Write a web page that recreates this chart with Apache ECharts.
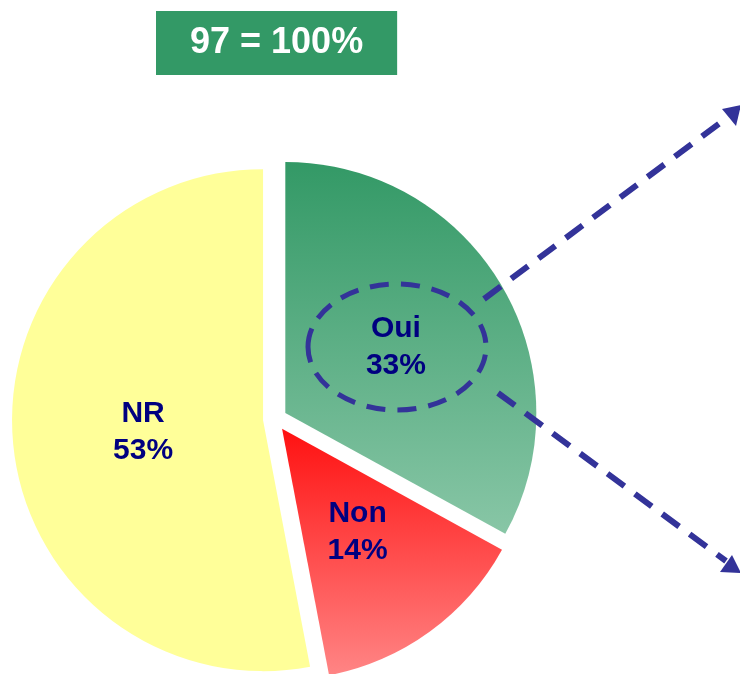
<!DOCTYPE html>
<html>
<head>
<meta charset="utf-8">
<script src="https://cdn.jsdelivr.net/npm/echarts@6/dist/echarts.min.js"></script>
<style>
  html, body { margin: 0; padding: 0; background: #fff; }
  #chart { width: 740px; height: 674px; }
</style>
</head>
<body>
<div id="chart"></div>
<script type="text/javascript">
	// réponses (en %)
	var categories = ['Oui', 'Non', 'NR'];
	var values = [33, 14, 53];
	var total = 97;

	var fills = [
		new echarts.graphic.LinearGradient(0, 0, 0, 1, [
			{offset: 0, color: '#339966'},
			{offset: 1, color: '#88C6A6'}
		]),
		new echarts.graphic.LinearGradient(0, 0, 0, 1, [
			{offset: 0, color: '#FF1111'},
			{offset: 1, color: '#FF8585'}
		]),
		'#FFFF99'
	];

	var pieData = [];
	for (var i = 0; i < categories.length; i++) {
		pieData.push({
			name: categories[i],
			value: values[i],
			selected: true,
			itemStyle: {color: fills[i]}
		});
	}

	var blue = '#333399';
	var chart = echarts.init(document.getElementById('chart'));
	chart.setOption({
		animation: false,
		title: {
			text: total + ' = 100%',
			left: 156,
			top: 11,
			backgroundColor: '#339966',
			padding: [14, 34, 14, 34],
			textStyle: {
				color: '#fff',
				fontSize: 36,
				fontWeight: 'bold',
				fontFamily: 'Liberation Sans, Arial, sans-serif',
				lineHeight: 36
			}
		},
		series: [{
			type: 'pie',
			center: [275, 419],
			radius: [0, 251],
			startAngle: 90,
			clockwise: true,
			selectedMode: 'multiple',
			selectedOffset: 12,
			emphasis: {disabled: true},
			itemStyle: {borderWidth: 0},
			label: {
				position: 'inside',
				formatter: '{b}\n{d}%',
				color: '#000080',
				fontSize: 30,
				fontWeight: 'bold',
				fontFamily: 'Liberation Sans, Arial, sans-serif',
				lineHeight: 37
			},
			labelLine: {show: false},
			// NR un peu plus à droite
			labelLayout: function (params) {
				if (params.dataIndex === 2) {
					return {dx: 8};
				}
				return {};
			},
			data: pieData
		}],
		graphic: [
			{
				type: 'ellipse',
				z: 100,
				shape: {cx: 397, cy: 347, rx: 89, ry: 63},
				style: {fill: 'none', stroke: blue, lineWidth: 5, lineDash: [19, 12]}
			},
			{
				type: 'line',
				z: 100,
				shape: {x1: 484, y1: 299, x2: 728, y2: 117},
				style: {stroke: blue, lineWidth: 6, lineDash: [21, 13]}
			},
			{
				type: 'polygon',
				z: 100,
				shape: {points: [[741, 105], [736, 126], [722, 109]]},
				style: {fill: blue}
			},
			{
				type: 'line',
				z: 100,
				shape: {x1: 498, y1: 393, x2: 726, y2: 561},
				style: {stroke: blue, lineWidth: 6, lineDash: [21, 13]}
			},
			{
				type: 'polygon',
				z: 100,
				shape: {points: [[741, 573], [720, 572], [732, 555]]},
				style: {fill: blue}
			}
		]
	});
</script>
</body>
</html>
